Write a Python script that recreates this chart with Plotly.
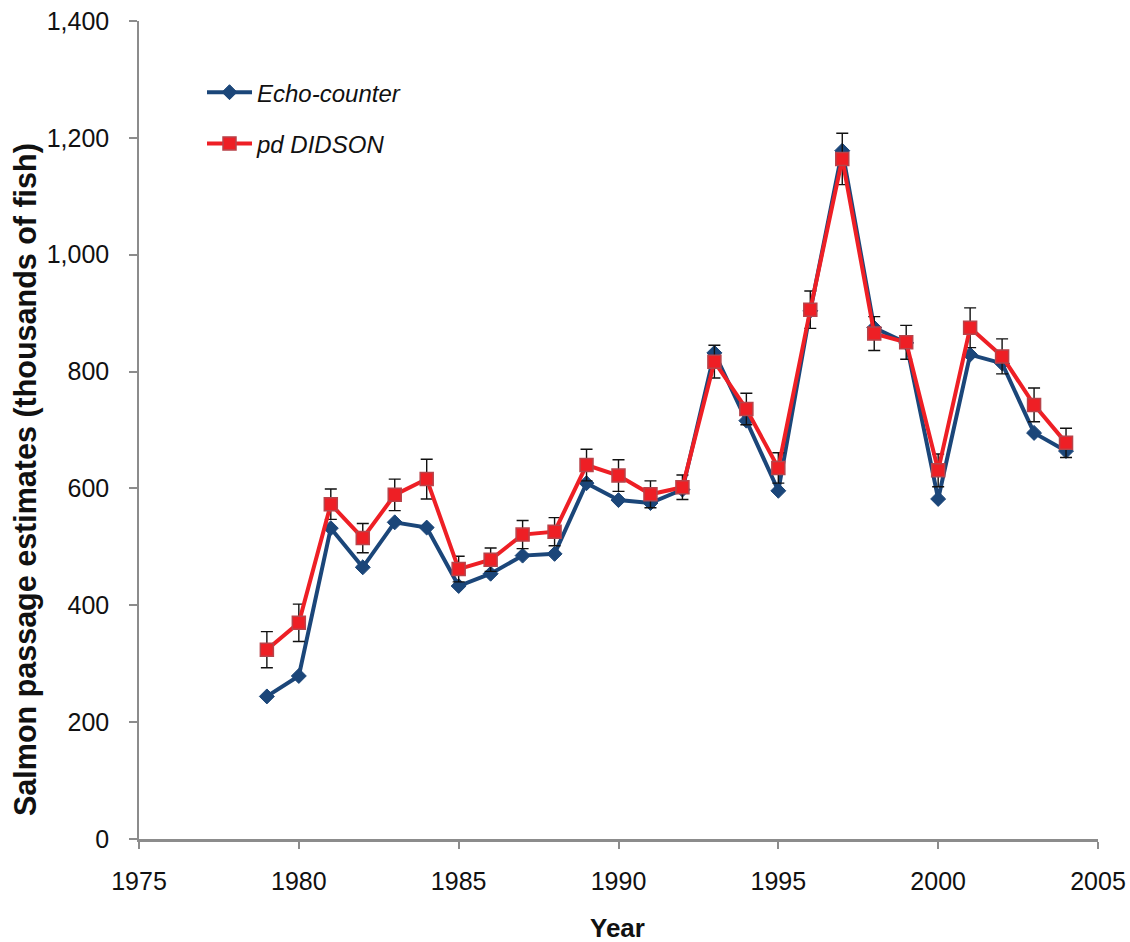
import plotly.graph_objects as go

years = list(range(1979, 2005))
echo_counter = [244, 279, 532, 465, 542, 533, 433, 454, 485, 488, 609, 580, 575, 598,
                832, 716, 596, 904, 1178, 875, 849, 582, 829, 814, 695, 664]
pd_didson = [324, 370, 573, 515, 589, 616, 462, 478, 521, 526, 640, 622, 590, 602,
             817, 736, 635, 906, 1164, 865, 850, 631, 875, 826, 743, 678]
didson_err = [31, 32, 26, 25, 27, 34, 22, 20, 24, 24, 27, 27, 23, 21,
              28, 27, 26, 32, 44, 29, 29, 28, 34, 30, 29, 25]

x_ticks = [1975, 1980, 1985, 1990, 1995, 2000, 2005]
y_ticks = [0, 200, 400, 600, 800, 1000, 1200, 1400]

FONT = "Liberation Sans, Arial, sans-serif"
AXIS_GRAY = "#8C8C8C"
TEXT = "#111111"

fig = go.Figure()
fig.add_trace(go.Scatter(
    x=years, y=echo_counter, name="Echo-counter", mode="lines+markers",
    legendgroup="a",
    line=dict(color="#1B4679", width=4),
    marker=dict(symbol="diamond", size=11.5, color="#1B4679",
                line=dict(color="#1B4679", width=1)),
))
fig.add_trace(go.Scatter(
    x=years, y=pd_didson, name="pd DIDSON", mode="lines+markers",
    legendgroup="b",
    line=dict(color="#EE1F25", width=4),
    marker=dict(symbol="square", size=13, color="#EE1F25",
                line=dict(color="#B8434A", width=1.5)),
    error_y=dict(type="data", array=didson_err, visible=True,
                 color=TEXT, thickness=1.4, width=6),
))

fig.update_layout(
    width=1130, height=942,
    margin=dict(l=139, r=32, t=21, b=103, autoexpand=False),
    paper_bgcolor="white", plot_bgcolor="white",
    font=dict(family=FONT, size=24, color=TEXT),
    showlegend=True,
    legend=dict(
        x=0.0657, y=0.94, xanchor="left", yanchor="top",
        font=dict(family=FONT, size=24, style="italic", color=TEXT),
        bgcolor="rgba(0,0,0,0)", traceorder="grouped", tracegroupgap=17,
        itemwidth=45,
    ),
    annotations=[
        dict(text="<b>Salmon passage estimates (thousands of fish)</b>",
             xref="paper", yref="paper", x=(25 - 139) / 959, y=(839 - 480) / 818,
             xanchor="center", yanchor="middle", textangle=-90, showarrow=False,
             font=dict(family=FONT, size=30.5, color=TEXT)),
        dict(text="<b>Year</b>",
             xref="paper", yref="paper", x=0.499, y=(839 - 928) / 818,
             xanchor="center", yanchor="middle", showarrow=False,
             font=dict(family=FONT, size=26, color=TEXT)),
    ],
)
fig.update_xaxes(
    range=[1975, 2005], tickvals=x_ticks, ticktext=[str(v) for v in x_ticks],
    showgrid=False, zeroline=False, automargin=False,
    showline=True, linecolor=AXIS_GRAY, linewidth=2.5,
    ticks="outside", ticklen=7, tickcolor=AXIS_GRAY, tickwidth=1.5,
    ticklabelstandoff=11, ticklabeloverflow="allow",
    tickfont=dict(family=FONT, size=25, color=TEXT),
)
fig.update_yaxes(
    range=[0, 1400], tickvals=y_ticks, tickformat=",",
    showgrid=False, zeroline=False, automargin=False,
    showline=True, linecolor=AXIS_GRAY, linewidth=1.5,
    ticks="outside", ticklen=8, tickcolor=AXIS_GRAY, tickwidth=1.5,
    ticklabelstandoff=15, ticklabeloverflow="allow",
    tickfont=dict(family=FONT, size=25, color=TEXT),
)

fig.write_html("out.html", config={"displayModeBar": False},
               post_script="document.body.style.margin='0';")
